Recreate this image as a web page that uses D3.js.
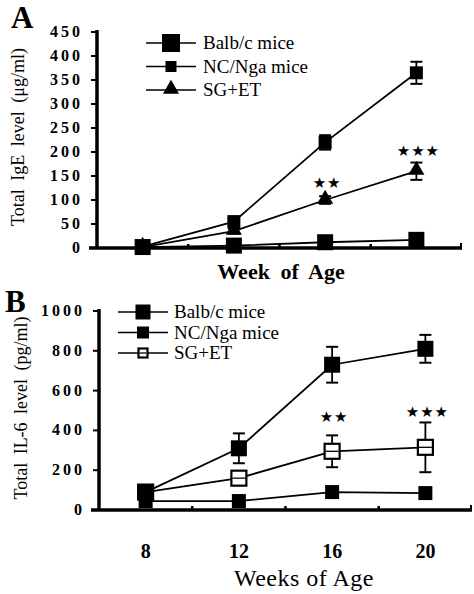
<!DOCTYPE html>
<html>
<head>
<meta charset="utf-8">
<script src="https://cdn.jsdelivr.net/npm/d3@7"></script>
<style>
  body { margin: 0; background: #fff; }
</style>
</head>
<body>
<svg id="chart" width="474" height="594"></svg>
<script>
// weeks of age sampled
const weeks = [8, 12, 16, 20];
const minorWeeks = [10, 14, 18];

// Panel A: total IgE (ug/ml)
const igeHigh = [3, 55, 220, 365];
const igeHighErr = [0, 8, 15, 23];
const igeLow = [2, 5, 12, 17];
const igeSG = [2, 35, 100, 160];
const igeSGErr = [0, 5, 8, 18];
const igeTicks = [0, 50, 100, 150, 200, 250, 300, 350, 400, 450];
const igeSig = [{ week: 16, value: 137, label: '★★' }, { week: 20, value: 204, label: '★★★' }];

// Panel B: total IL-6 (pg/ml)
const il6High = [90, 310, 730, 810];
const il6HighErr = [0, 75, 90, 70];
const il6Low = [45, 45, 90, 85];
const il6SG = [90, 160, 295, 315];
const il6SGErr = [0, 20, 80, 125];
const il6Ticks = [0, 200, 400, 600, 800, 1000];
const il6Sig = [{ week: 16, value: 470, label: '★★' }, { week: 20, value: 495, label: '★★★' }];

const legendLabels = ['Balb/c mice', 'NC/Nga mice', 'SG+ET'];

const SERIF = 'Liberation Serif';
const svg = d3.select('#chart');

function txt(g) {
  return g.append('text').attr('font-family', SERIF).attr('fill', '#000');
}

// marker drawing; size is the square side in px
function marker(g, kind, x, y, size) {
  if (kind === 'tri') {
    g.append('path')
      .attr('d', d3.symbol().type(d3.symbolTriangle).size(size * size * 0.5)())
      .attr('transform', `translate(${x},${y - 1})`)
      .attr('fill', '#000');
    return;
  }
  if (kind === 'open') {
    const h = size / 2;
    g.append('rect')
      .attr('x', x - h).attr('y', y - h)
      .attr('width', size).attr('height', size)
      .attr('fill', '#fff').attr('stroke', '#000').attr('stroke-width', 2.2);
    g.append('line')
      .attr('x1', x - h + 1).attr('x2', x + h - 1).attr('y1', y).attr('y2', y)
      .attr('stroke', '#000').attr('stroke-width', 1.3);
    return;
  }
  g.append('rect')
    .attr('x', x - size / 2).attr('y', y - size / 2)
    .attr('width', size).attr('height', size)
    .attr('fill', '#000');
}

function panel(opt) {
  const { x, y } = opt;
  const g = svg.append('g');

  // axes
  g.append('line')
    .attr('x1', x.range()[0]).attr('x2', x.range()[0])
    .attr('y1', y.range()[1] - 2).attr('y2', y.range()[0] + 1)
    .attr('stroke', '#000').attr('stroke-width', 3.5);
  g.append('line')
    .attr('x1', x.range()[0] - 8).attr('x2', x.range()[1])
    .attr('y1', y.range()[0]).attr('y2', y.range()[0])
    .attr('stroke', '#000').attr('stroke-width', 3.5);
  // right-end up tick
  g.append('line')
    .attr('x1', x.range()[1] - 1).attr('x2', x.range()[1] - 1)
    .attr('y1', y.range()[0]).attr('y2', y.range()[0] - 5)
    .attr('stroke', '#000').attr('stroke-width', 2);

  opt.ticks.forEach(t => {
    g.append('line')
      .attr('x1', x.range()[0] - 6).attr('x2', x.range()[0])
      .attr('y1', y(t)).attr('y2', y(t))
      .attr('stroke', '#000').attr('stroke-width', 2);
    txt(g)
      .attr('x', x.range()[0] - 14).attr('y', y(t) + 5)
      .attr('text-anchor', 'end')
      .attr('font-size', 16).attr('font-weight', 'bold')
      .attr('letter-spacing', 3)
      .text(t);
  });

  // minor up ticks on x axis
  minorWeeks.forEach(w => {
    g.append('line')
      .attr('x1', x(w)).attr('x2', x(w))
      .attr('y1', y.range()[0]).attr('y2', y.range()[0] - 4)
      .attr('stroke', '#000').attr('stroke-width', 2.5);
  });

  // series
  const line = d3.line().x((d, i) => x(weeks[i])).y(d => y(d));
  opt.series.forEach(s => {
    g.append('path')
      .attr('d', line(s.values))
      .attr('fill', 'none').attr('stroke', '#000').attr('stroke-width', 1.8);
  });
  opt.series.forEach(s => {
    s.values.forEach((v, i) => {
      const e = s.err ? s.err[i] : 0;
      if (e > 0) {
        const cx = x(weeks[i]);
        g.append('line')
          .attr('x1', cx).attr('x2', cx)
          .attr('y1', y(v - e)).attr('y2', y(v + e))
          .attr('stroke', '#000').attr('stroke-width', 1.8);
        [v - e, v + e].forEach(b => {
          g.append('line')
            .attr('x1', cx - 6).attr('x2', cx + 6)
            .attr('y1', y(b)).attr('y2', y(b))
            .attr('stroke', '#000').attr('stroke-width', 2);
        });
      }
      marker(g, s.kind, x(weeks[i]), y(v), s.size);
    });
  });

  // significance stars
  opt.sig.forEach(d => {
    g.append('text')
      .attr('font-family', 'DejaVu Sans')
      .attr('x', x(d.week) + 2).attr('y', y(d.value) + 6)
      .attr('text-anchor', 'middle')
      .attr('font-size', 15).attr('letter-spacing', 1)
      .text(d.label);
  });

  // legend
  opt.legendKinds.forEach((k, i) => {
    const ly = opt.legend.y + i * opt.legend.dy;
    g.append('line')
      .attr('x1', opt.legend.x).attr('x2', opt.legend.x + 50)
      .attr('y1', ly).attr('y2', ly)
      .attr('stroke', '#000').attr('stroke-width', 1.6);
    marker(g, k, opt.legend.x + 25, ly, opt.legendSizes[i]);
    txt(g)
      .attr('x', opt.legend.x + opt.legend.tx).attr('y', ly + 6)
      .attr('font-size', 19)
      .text(legendLabels[i]);
  });

  // y title
  txt(g)
    .attr('transform', `translate(${opt.yTitleX},${opt.yTitleY}) rotate(-90)`)
    .attr('text-anchor', 'middle')
    .attr('font-size', 18)
    .attr('word-spacing', 4)
    .text(opt.yTitle);

  // panel letter
  txt(g)
    .attr('x', opt.letter[0]).attr('y', opt.letter[1])
    .attr('font-size', 31).attr('font-weight', 'bold')
    .text(opt.letterText);

  return g;
}

// Panel A
const xA = d3.scaleLinear().domain([6, 22]).range([97, 462]);
const yA = d3.scaleLinear().domain([0, 450]).range([248, 32]);
panel({
  x: xA, y: yA, ticks: igeTicks,
  series: [
    { values: igeLow, kind: 'sq', size: 16 },
    { values: igeSG, err: igeSGErr, kind: 'tri', size: 15 },
    { values: igeHigh, err: igeHighErr, kind: 'sq', size: 13 }
  ],
  sig: igeSig,
  legendKinds: ['sq', 'sq', 'tri'], legendSizes: [18, 11, 15],
  legend: { x: 146, y: 43, dy: 23.5, tx: 57 },
  yTitle: 'Total  IgE level (μg/ml)', yTitleX: 24, yTitleY: 137,
  letter: [11, 28], letterText: 'A'
});
txt(svg)
  .attr('x', 281).attr('y', 279)
  .attr('text-anchor', 'middle')
  .attr('font-size', 22).attr('font-weight', 'bold')
  .attr('word-spacing', 5)
  .text('Week of Age');

// Panel B
const xB = d3.scaleLinear().domain([6, 22]).range([99, 472]);
const yB = d3.scaleLinear().domain([0, 1000]).range([510, 311]);
panel({
  x: xB, y: yB, ticks: il6Ticks,
  series: [
    { values: il6Low, kind: 'sq', size: 14 },
    { values: il6SG, err: il6SGErr, kind: 'open', size: 15 },
    { values: il6High, err: il6HighErr, kind: 'sq', size: 16 }
  ],
  sig: il6Sig,
  legendKinds: ['sq', 'sq', 'open'], legendSizes: [15, 12, 9],
  legend: { x: 118, y: 312, dy: 20.5, tx: 56 },
  yTitle: 'Total  IL-6 level (pg/ml)', yTitleX: 27, yTitleY: 408,
  letter: [5, 312], letterText: 'B'
});
weeks.forEach(w => {
  txt(svg)
    .attr('x', xB(w)).attr('y', 558)
    .attr('text-anchor', 'middle')
    .attr('font-size', 20).attr('font-weight', 'bold')
    .text(w);
});
txt(svg)
  .attr('x', 304).attr('y', 586)
  .attr('text-anchor', 'middle')
  .attr('font-size', 24)
  .attr('letter-spacing', 0.5)
  .text('Weeks of Age');
</script>
</body>
</html>
